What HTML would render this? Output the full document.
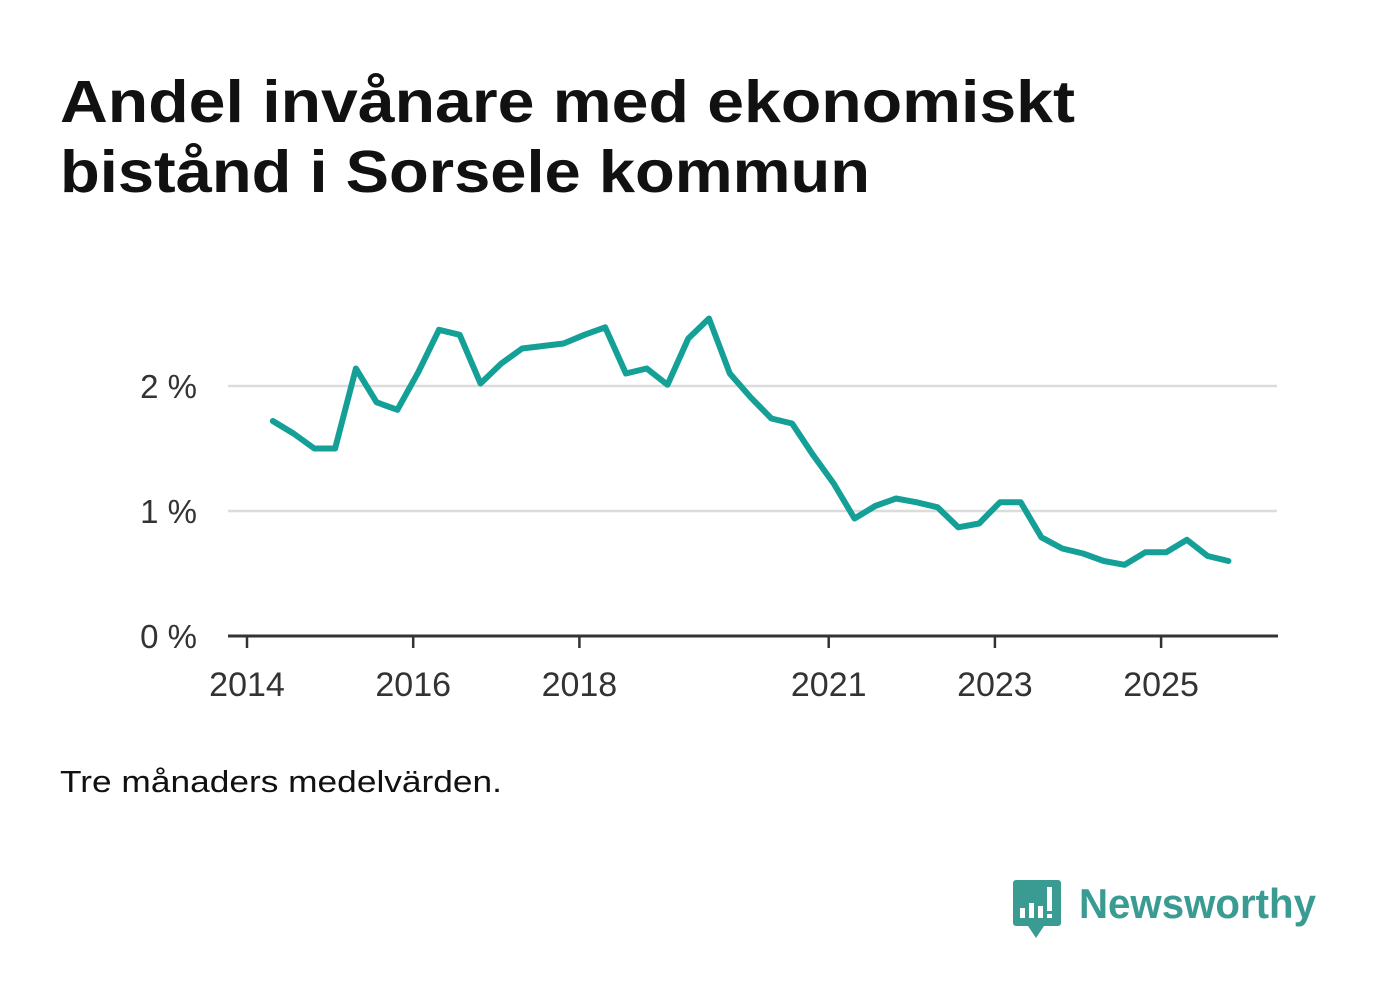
<!DOCTYPE html>
<html><head><meta charset="utf-8"><style>
body{margin:0;background:#fff;width:1382px;height:999px;overflow:hidden;font-family:"Liberation Sans","DejaVu Sans",sans-serif;}
</style></head><body>
<svg width="1382" height="999" xmlns="http://www.w3.org/2000/svg">
<text x="60" y="122" font-size="59" font-weight="bold" fill="#111" textLength="1015" lengthAdjust="spacingAndGlyphs">Andel invånare med ekonomiskt</text>
<text x="60" y="192" font-size="59" font-weight="bold" fill="#111" textLength="810" lengthAdjust="spacingAndGlyphs">bistånd i Sorsele kommun</text>
<g id="grid"></g>
<g id="xaxis"></g>
<path id="line" fill="none" stroke="#14a096" stroke-width="6" stroke-linejoin="round" stroke-linecap="round"/>
<text x="60" y="792" font-size="31" fill="#111" textLength="442" lengthAdjust="spacingAndGlyphs">Tre månaders medelvärden.</text>
<g>
<path d="M1016 880 h42 a3 3 0 0 1 3 3 v40 a3 3 0 0 1 -3 3 h-14 l-8 12 l-8 -12 h-12 a3 3 0 0 1 -3 -3 v-40 a3 3 0 0 1 3 -3z" fill="#3a9b93"/>
<rect x="1020" y="908" width="5" height="10" fill="#fff"/>
<rect x="1029" y="903" width="5" height="15" fill="#fff"/>
<rect x="1038" y="906" width="5" height="12" fill="#fff"/>
<rect x="1047" y="887" width="5" height="24" fill="#fff"/>
<rect x="1047" y="914" width="5" height="4" fill="#fff"/>
<text x="1079" y="918" font-size="42" font-weight="bold" fill="#3a9b93" textLength="237" lengthAdjust="spacingAndGlyphs">Newsworthy</text>
</g>
</svg>
<script>
const yTicks=[0,1,2];
const yTickLabels=["0 %","1 %","2 %"];
const xTicks=[2014,2016,2018,2021,2023,2025];
const startYear=2014.31;
const step=0.25;
const values=[1.72,1.62,1.50,1.50,2.14,1.87,1.81,2.11,2.45,2.41,2.02,2.18,2.30,2.32,2.34,2.41,2.47,2.10,2.14,2.01,2.38,2.54,2.10,1.91,1.74,1.70,1.45,1.22,0.94,1.04,1.10,1.07,1.03,0.87,0.90,1.07,1.07,0.79,0.70,0.66,0.60,0.57,0.67,0.67,0.77,0.64,0.60];
const NS="http://www.w3.org/2000/svg";
const X=t=>247+(t-2014)*83.1;
const Y=v=>636-v*125;
const grid=document.getElementById('grid');
yTicks.forEach((v,i)=>{
 if(v>0){const l=document.createElementNS(NS,'line');
 l.setAttribute('x1',228);l.setAttribute('x2',1277);l.setAttribute('y1',Y(v));l.setAttribute('y2',Y(v));
 l.setAttribute('stroke','#dcdcdc');l.setAttribute('stroke-width',2.5);
 
 
 grid.appendChild(l);}
 const t=document.createElementNS(NS,'text');
 t.setAttribute('x',197);t.setAttribute('y',Y(v)+12);t.setAttribute('text-anchor','end');
 t.setAttribute('font-size',33);t.setAttribute('fill','#333');t.textContent=yTickLabels[i];
 
 
 grid.appendChild(t);
});
const xa=document.getElementById('xaxis');
const base=document.createElementNS(NS,'line');
base.setAttribute('x1',228);base.setAttribute('x2',1278);base.setAttribute('y1',636);base.setAttribute('y2',636);
base.setAttribute('stroke','#333');base.setAttribute('stroke-width',3);


xa.appendChild(base);
xTicks.forEach(y=>{
 const l=document.createElementNS(NS,'line');
 l.setAttribute('x1',X(y));l.setAttribute('x2',X(y));l.setAttribute('y1',636);l.setAttribute('y2',648);
 l.setAttribute('stroke','#333');l.setAttribute('stroke-width',2.5);
 
 
 xa.appendChild(l);
 const t=document.createElementNS(NS,'text');
 t.setAttribute('x',X(y));t.setAttribute('y',696);t.setAttribute('text-anchor','middle');
 t.setAttribute('font-size',34);t.setAttribute('fill','#333');t.textContent=y;
 
 
 xa.appendChild(t);
});
document.getElementById('line').setAttribute('d',values.map((v,i)=>(i?'L':'M')+X(startYear+i*step).toFixed(1)+' '+Y(v).toFixed(1)).join(' '));
</script>
</body></html>
